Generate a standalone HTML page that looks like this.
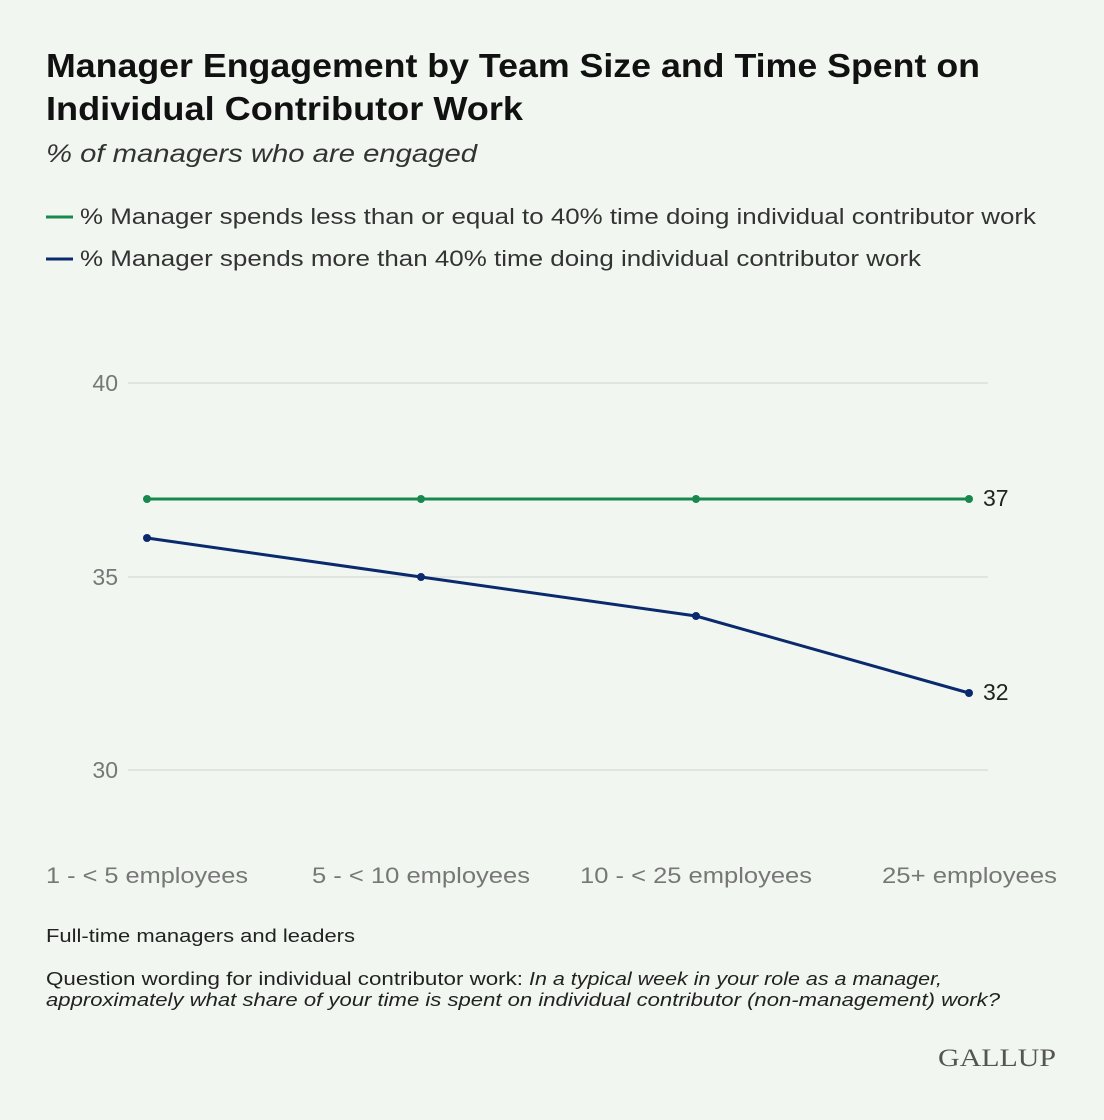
<!DOCTYPE html>
<html><head><meta charset="utf-8"><style>
html,body{margin:0;padding:0;background:#f1f7f0;}
svg{display:block;font-family:"Liberation Sans",sans-serif;}
</style></head><body>
<svg width="1104" height="1120" viewBox="0 0 1104 1120">
<rect width="1104" height="1120" fill="#f1f7f0"/>
<text x="46" y="77" font-size="33" font-weight="bold" fill="#111" textLength="934" lengthAdjust="spacingAndGlyphs">Manager Engagement by Team Size and Time Spent on</text>
<text x="46" y="120" font-size="33" font-weight="bold" fill="#111" textLength="477" lengthAdjust="spacingAndGlyphs">Individual Contributor Work</text>
<text x="46" y="162" font-size="25" font-style="italic" fill="#333" textLength="431" lengthAdjust="spacingAndGlyphs">% of managers who are engaged</text>
<line x1="46" y1="217" x2="73" y2="217" stroke="#18894d" stroke-width="3"/>
<text x="80" y="224" font-size="22" fill="#333" textLength="956" lengthAdjust="spacingAndGlyphs">% Manager spends less than or equal to 40% time doing individual contributor work</text>
<line x1="46" y1="259" x2="73" y2="259" stroke="#0b2a6e" stroke-width="3"/>
<text x="80" y="266" font-size="22" fill="#333" textLength="841" lengthAdjust="spacingAndGlyphs">% Manager spends more than 40% time doing individual contributor work</text>
<g stroke="#dcdfdc" stroke-width="1.5">
<line x1="128" y1="383" x2="988" y2="383"/>
<line x1="128" y1="577" x2="988" y2="577"/>
<line x1="128" y1="770" x2="988" y2="770"/>
</g>
<g font-size="23" fill="#777" text-anchor="end">
<text x="118" y="391">40</text>
<text x="118" y="585">35</text>
<text x="118" y="778">30</text>
</g>
<polyline points="147,499 421,499 696,499 969,499" fill="none" stroke="#18894d" stroke-width="3"/>
<polyline points="147,538 421,577 696,616 969,693" fill="none" stroke="#0b2a6e" stroke-width="3"/>
<g fill="#18894d"><circle cx="147" cy="499" r="4"/><circle cx="421" cy="499" r="4"/><circle cx="696" cy="499" r="4"/><circle cx="969" cy="499" r="4"/></g>
<g fill="#0b2a6e"><circle cx="147" cy="538" r="4"/><circle cx="421" cy="577" r="4"/><circle cx="696" cy="616" r="4"/><circle cx="969" cy="693" r="4"/></g>
<text x="983" y="506" font-size="23" fill="#222">37</text>
<text x="983" y="700" font-size="23" fill="#222">32</text>
<g font-size="22" fill="#777">
<text x="46" y="883" textLength="202" lengthAdjust="spacingAndGlyphs">1 - &lt; 5 employees</text>
<text x="312" y="883" textLength="218" lengthAdjust="spacingAndGlyphs">5 - &lt; 10 employees</text>
<text x="580" y="883" textLength="232" lengthAdjust="spacingAndGlyphs">10 - &lt; 25 employees</text>
<text x="882" y="883" textLength="175" lengthAdjust="spacingAndGlyphs">25+ employees</text>
</g>
<text x="46" y="942" font-size="18" fill="#222" textLength="309" lengthAdjust="spacingAndGlyphs">Full-time managers and leaders</text>
<text x="46" y="985" font-size="18" fill="#222" textLength="477" lengthAdjust="spacingAndGlyphs">Question wording for individual contributor work:</text>
<text x="529" y="985" font-size="18" fill="#222" font-style="italic" textLength="413" lengthAdjust="spacingAndGlyphs">In a typical week in your role as a manager,</text>
<text x="46" y="1006" font-size="18" fill="#222" font-style="italic" textLength="954" lengthAdjust="spacingAndGlyphs">approximately what share of your time is spent on individual contributor (non-management) work?</text>
<text x="938" y="1066" font-size="25" fill="#555" font-family="Liberation Serif,serif" textLength="118" lengthAdjust="spacingAndGlyphs">GALLUP</text>
</svg>
</body></html>
